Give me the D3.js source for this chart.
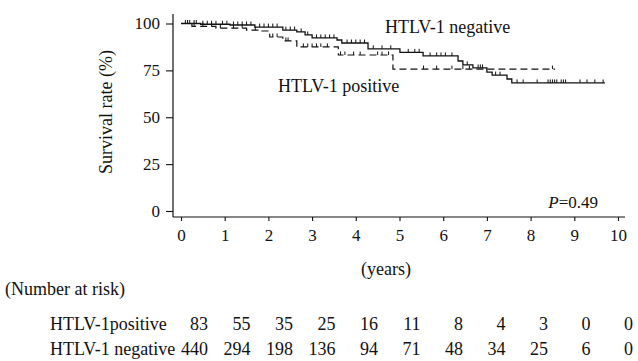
<!DOCTYPE html>
<html><head><meta charset="utf-8">
<script src="https://cdn.jsdelivr.net/npm/d3@7"></script>
<style>body{margin:0;background:#fff}svg{display:block}text{font-family:"Liberation Serif","Times New Roman",Times,serif;fill:#111}</style>
</head><body><svg id="c" width="638" height="361"></svg>
<script>
// Data
const yTicks = [0, 25, 50, 75, 100];
const xTicks = [0,1,2,3,4,5,6,7,8,9,10];
const negTimes  = [0, 0.45, 1.12, 1.69, 2.33, 2.65, 2.84, 3.0, 3.57, 3.68, 4.28, 5.01, 5.54, 6.34, 6.45, 6.68, 7.0, 7.12, 7.46, 7.57];
const negValues = [100, 99.6, 99.2, 98.1, 96.5, 95.5, 93.9, 92.3, 91.2, 89.6, 86.5, 84.6, 82.7, 80, 77.9, 76.3, 74.1, 72.5, 70.4, 68.3];
const negEnd = 9.7;
const posTimes  = [0, 0.25, 0.8, 1.5, 1.85, 2.03, 2.33, 2.65, 3.6, 4.85];
const posValues = [100, 98.5, 97.5, 96.5, 96, 92.8, 90.7, 87.5, 83.2, 75.7];
const posEnd = 8.56;
const negCensor = [0.1,0.15,0.2,0.3,0.35,0.5,0.6,0.7,0.8,0.95,1.05,1.2,1.3,1.4,1.5,1.6,1.8,1.9,2.0,2.1,2.2,2.4,2.5,2.6,2.75,2.9,3.1,3.2,3.3,3.4,3.5,3.8,3.9,4.0,4.1,4.2,4.4,4.6,4.8,5.2,5.35,5.45,5.7,5.85,5.95,6.05,6.2,6.55,6.8,6.85,6.9,7.2,7.3,7.69,7.83,8.15,8.4,8.45,8.5,8.55,8.6,8.7,8.75,8.8,9.13,9.29,9.47,9.66];
const posCensor = [0.15,0.3,0.5,0.7,0.9,1.2,1.4,1.7,2.1,2.2,2.4,2.45,2.8,2.9,3.0,3.1,3.2,3.35,3.65,3.75,3.95,4.1,4.5,4.6,4.75,5.55,5.85,6.2,6.45,6.6,8.5];
const riskGroups = ["HTLV-1positive", "HTLV-1 negative"];
const riskPositive = [83, 55, 35, 25, 16, 11, 8, 4, 3, 0, 0];
const riskNegative = [440, 294, 198, 136, 94, 71, 48, 34, 25, 6, 0];

const svg = d3.select("#c");
const x = d3.scaleLinear().domain([0, 10]).range([181, 618]);
const y = d3.scaleLinear().domain([0, 100]).range([211, 23.5]);

// axes
const yAx = svg.append("g").attr("transform","translate(173,0)")
  .call(d3.axisLeft(y).tickValues(yTicks).tickSize(7).tickPadding(6).tickSizeOuter(0));
yAx.select(".domain").remove();
svg.append("line").attr("x1",173).attr("x2",173).attr("y1",14).attr("y2",217).attr("stroke","#111").attr("stroke-width",1.2);
const xAx = svg.append("g").attr("transform","translate(0,217)")
  .call(d3.axisBottom(x).tickValues(xTicks).tickSize(4).tickPadding(8).tickSizeOuter(0));
xAx.select(".domain").remove();
svg.append("line").attr("x1",173).attr("x2",625).attr("y1",217).attr("y2",217).attr("stroke","#111").attr("stroke-width",1.2);
svg.selectAll(".tick line").attr("stroke","#111").attr("stroke-width",1.1);
svg.selectAll(".tick text").style("font-family","'Liberation Serif', 'Times New Roman', serif").style("font-size","17px").attr("fill","#111");

function stepPath(times, vals, end){
  const pts = times.map((t,i)=>[t, vals[i]]);
  pts.push([end, vals[vals.length-1]]);
  return d3.line().x(d=>x(d[0])).y(d=>y(d[1])).curve(d3.curveStepAfter)(pts);
}
function survAt(times, vals, t){
  let v = vals[0];
  for (let i=0;i<times.length;i++) if (times[i] <= t) v = vals[i];
  return v;
}
svg.append("path").attr("d", stepPath(posTimes,posValues,posEnd))
  .attr("fill","none").attr("stroke","#111").attr("stroke-width",1.2).attr("stroke-dasharray","7,4");
svg.append("path").attr("d", stepPath(negTimes,negValues,negEnd))
  .attr("fill","none").attr("stroke","#111").attr("stroke-width",1.3);
svg.selectAll(".cn").data(negCensor).enter().append("line")
  .attr("x1",d=>x(d)).attr("x2",d=>x(d))
  .attr("y1",d=>y(survAt(negTimes,negValues,d))).attr("y2",d=>y(survAt(negTimes,negValues,d))-3.5)
  .attr("stroke","#111").attr("stroke-width",1);
svg.selectAll(".cp").data(posCensor).enter().append("line")
  .attr("x1",d=>x(d)).attr("x2",d=>x(d))
  .attr("y1",d=>y(survAt(posTimes,posValues,d))).attr("y2",d=>y(survAt(posTimes,posValues,d))-3.5)
  .attr("stroke","#111").attr("stroke-width",1);

// labels
const fs = "18px";
svg.append("text").attr("x",385).attr("y",33).style("font-size",fs).text("HTLV-1 negative");
svg.append("text").attr("x",278).attr("y",92).style("font-size",fs).text("HTLV-1 positive");
const p = svg.append("text").attr("x",598).attr("y",208).attr("text-anchor","end").style("font-size","17px");
p.append("tspan").style("font-style","italic").text("P");
p.append("tspan").text("=0.49");
svg.append("text").attr("transform","translate(112,112) rotate(-90)").attr("text-anchor","middle").style("font-size",fs).text("Survival rate (%)");
svg.append("text").attr("x",386).attr("y",275).attr("text-anchor","middle").style("font-size",fs).text("(years)");
svg.append("text").attr("x",5).attr("y",295).style("font-size",fs).text("(Number at risk)");

const rx = d3.scaleLinear().domain([0,10]).range([208,633]);
const rows = [riskPositive, riskNegative];
const rowY = [330, 355];
riskGroups.forEach((g,i)=>{
  svg.append("text").attr("x",50).attr("y",rowY[i]).style("font-size",fs).text(g);
  svg.selectAll(".r"+i).data(rows[i]).enter().append("text")
    .attr("x",(d,j)=>rx(j)).attr("y",rowY[i]).attr("text-anchor","end").style("font-size",fs).text(d=>d);
});
</script></body></html>
